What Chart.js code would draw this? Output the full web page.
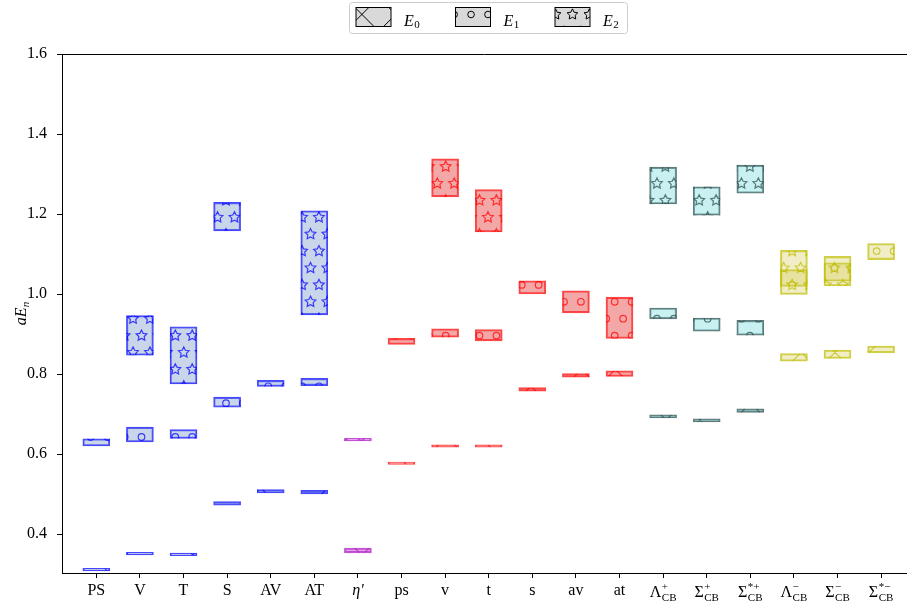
<!DOCTYPE html>
<html>
<head>
<meta charset="utf-8">
<script src="https://cdn.jsdelivr.net/npm/chart.js@4/dist/chart.umd.min.js"></script>
<style>
  html, body { margin: 0; padding: 0; background: #fff; }
  #wrap { width: 907px; height: 610px; }
</style>
</head>
<body>
<div id="wrap"><canvas id="c" width="907" height="610"></canvas></div>
<script>
// Channels along the x axis
const categories = ['PS', 'V', 'T', 'S', 'AV', 'AT', 'eta', 'ps', 'v', 't', 's', 'av', 'at',
                    'LamCB+', 'SigCB+', 'SigStarCB+', 'LamCB-', 'SigCB-', 'SigStarCB-'];
// Tick label pieces: main text, superscript, subscript, italic flag
const tickBase   = ['PS', 'V', 'T', 'S', 'AV', 'AT', 'η′', 'ps', 'v', 't', 's', 'av', 'at', 'Λ', 'Σ', 'Σ', 'Λ', 'Σ', 'Σ'];
const tickSup    = ['', '', '', '', '', '', '', '', '', '', '', '', '', '+', '+', '*+', '−', '−', '*−'];
const tickSub    = ['', '', '', '', '', '', '', '', '', '', '', '', '', 'CB', 'CB', 'CB', 'CB', 'CB', 'CB'];
const tickItalic = [false, false, false, false, false, false, true, false, false, false, false, false, false,
                    false, false, false, false, false, false];
// Colour family of each channel
const groups = ['blue', 'blue', 'blue', 'blue', 'blue', 'blue', 'purple',
                'red', 'red', 'red', 'red', 'red', 'red',
                'teal', 'teal', 'teal', 'yellow', 'yellow', 'yellow'];

// Energy bands [low, high] for each state; null = no band
const e0 = [
  [0.308, 0.314], [0.348, 0.354], [0.346, 0.352], [0.472, 0.481], [0.503, 0.511], [0.500, 0.509],
  [0.353, 0.365],
  [0.574, 0.580], [0.617, 0.623], [0.617, 0.623], [0.757, 0.766], [0.792, 0.801], [0.794, 0.808],
  [0.690, 0.698], [0.680, 0.688], [0.704, 0.713],
  [0.832, 0.851], [0.839, 0.860], [0.853, 0.870]
];
const e1 = [
  [0.620, 0.638], [0.630, 0.667], [0.639, 0.661], [0.717, 0.742], [0.769, 0.784], [0.771, 0.789],
  [0.633, 0.639],
  [0.874, 0.889], [0.892, 0.913], [0.883, 0.911], [1.000, 1.033], [0.953, 1.008], [0.889, 0.992],
  [0.938, 0.965], [0.907, 0.940], [0.897, 0.934],
  [1.019, 1.061], [1.032, 1.078], [1.086, 1.126]
];
const e2 = [
  null, [0.847, 0.946], [0.775, 0.918], [1.158, 1.229], null, [0.948, 1.208],
  null,
  null, [1.243, 1.338], [1.155, 1.261], null, null, null,
  [1.225, 1.317], [1.197, 1.268], [1.252, 1.322],
  [0.999, 1.109], [1.020, 1.094], null
];
const yTicks = [0.4, 0.6, 0.8, 1.0, 1.2, 1.4, 1.6];
const legendLabels = ['0', '1', '2'];

const palette = {
  blue:   { fill: 'rgba(120,150,200,0.40)', edge: 'rgba(0,0,255,0.72)' },
  purple: { fill: 'rgba(190,60,200,0.45)',  edge: 'rgba(180,40,200,0.80)' },
  red:    { fill: 'rgba(230,60,60,0.45)',   edge: 'rgba(255,0,0,0.72)' },
  teal:   { fill: 'rgba(120,220,220,0.40)', edge: 'rgba(47,79,79,0.75)' },
  yellow: { fill: 'rgba(210,200,70,0.30)',  edge: 'rgba(190,190,0,0.72)' }
};
const SERIF = '"Liberation Serif", "DejaVu Serif", serif';

// Hatch lattice shared by every patch (anchored to the canvas, not to the bar)
const HATCH = { s: 16.9, x0: 6.3, y0: 301.8, line: 33.8, ne: 4.5, nw: 9.5 };

function starPath(c, cx, cy, R) {
  for (let i = 0; i <= 10; i++) {
    const a = Math.PI / 2 + i * Math.PI / 5;
    const r = (i % 2 === 0) ? R : R * 0.5;
    const px = cx + r * Math.cos(a), py = cy - r * Math.sin(a);
    if (i === 0) c.moveTo(px, py); else c.lineTo(px, py);
  }
  c.closePath();
}

function drawHatch(c, kind, L, T, W, H, color, lw) {
  c.save();
  c.beginPath();
  c.rect(L, T, W, H);
  c.clip();
  c.strokeStyle = color;
  c.lineWidth = lw;
  c.beginPath();
  if (kind === 'x') {
    const p = HATCH.line;
    let cmin = L + T, cmax = L + W + T + H;
    for (let k = Math.floor((cmin - HATCH.ne) / p) * p + HATCH.ne; k <= cmax + p; k += p) {
      c.moveTo(k - T, T); c.lineTo(k - (T + H), T + H);
    }
    cmin = L - (T + H); cmax = L + W - T;
    for (let k = Math.floor((cmin - HATCH.nw) / p) * p + HATCH.nw; k <= cmax + p; k += p) {
      c.moveTo(k + T, T); c.lineTo(k + T + H, T + H);
    }
  } else {
    const s = HATCH.s;
    const R = kind === 'o' ? 3.3 : 5.6;
    const r0 = Math.floor((T - R - HATCH.y0) / s), r1 = Math.ceil((T + H + R - HATCH.y0) / s);
    for (let r = r0; r <= r1; r++) {
      const cy = HATCH.y0 + r * s;
      const ph = HATCH.x0 + (((r % 2) + 2) % 2 ? s / 2 : 0);
      const k0 = Math.floor((L - R - ph) / s), k1 = Math.ceil((L + W + R - ph) / s);
      for (let k = k0; k <= k1; k++) {
        const cx = ph + k * s;
        if (kind === 'o') { c.moveTo(cx + R, cy); c.arc(cx, cy, R, 0, Math.PI * 2); }
        else starPath(c, cx, cy, R);
      }
    }
  }
  c.stroke();
  c.restore();
}

function makeDataset(label, ranges, hatch, order) {
  const pts = [];
  ranges.forEach((r, i) => { if (r) pts.push({ x: i, y: r }); });
  return {
    label, hatch, order,
    data: pts,
    grouped: false,
    barThickness: 27,
    borderWidth: 1.4,
    borderSkipped: false,
    backgroundColor: ctx => ctx.raw ? palette[groups[ctx.raw.x]].fill : '#ccc',
    borderColor: ctx => ctx.raw ? palette[groups[ctx.raw.x]].edge : '#000'
  };
}

// Draws the hatch of each bar right after its series
const hatchPlugin = {
  id: 'hatchFill',
  afterDatasetDraw(chart, args) {
    const ds = chart.data.datasets[args.index];
    const c = chart.ctx, a = chart.chartArea;
    c.save();
    c.beginPath();
    c.rect(a.left, a.top, a.right - a.left, a.bottom - a.top);
    c.clip();
    args.meta.data.forEach((el, j) => {
      const p = el.getProps(['x', 'y', 'base', 'width'], true);
      const L = p.x - p.width / 2, T = Math.min(p.y, p.base), H = Math.abs(p.base - p.y);
      drawHatch(c, ds.hatch, L, T, p.width, H, palette[groups[ds.data[j].x]].edge, 1.2);
    });
    c.restore();
  }
};

// Top spine, tick labels with sub/superscripts, axis label and legend
const decorPlugin = {
  id: 'decor',
  afterDraw(chart) {
    const c = chart.ctx, a = chart.chartArea, xs = chart.scales.x;
    c.save();
    c.strokeStyle = '#000';
    c.lineWidth = 1;
    c.beginPath();
    c.moveTo(a.left, a.top + 0.5);
    c.lineTo(a.right, a.top + 0.5);
    c.stroke();

    c.fillStyle = '#000';
    c.textBaseline = 'alphabetic';
    c.textAlign = 'left';
    const small = '11px ' + SERIF;
    categories.forEach((_, i) => {
      const x = xs.getPixelForValue(i);
      const fMain = (tickItalic[i] ? 'italic ' : '') + '16px ' + SERIF;
      const base = tickBase[i], sup = tickSup[i], sub = tickSub[i];
      c.font = fMain;
      const wb = c.measureText(base).width;
      c.font = small;
      const ws = (sup || sub) ? Math.max(c.measureText(sup).width, c.measureText(sub).width) + 0.5 : 0;
      const x0 = x - (wb + ws) / 2;
      const by = (sup || sub) ? 597 : 595;
      c.font = fMain;
      c.fillText(base, x0, by);
      c.font = small;
      if (sup) c.fillText(sup, x0 + wb + 0.5, by - 7);
      if (sub) c.fillText(sub, x0 + wb + 0.5, by + 4);
    });

    // y axis label aE_n
    c.save();
    c.translate(26, (a.top + a.bottom) / 2);
    c.rotate(-Math.PI / 2);
    c.font = 'italic 16px ' + SERIF;
    const wMain = c.measureText('aE').width;
    c.font = 'italic 11px ' + SERIF;
    const wSub = c.measureText('n').width;
    const sx = -(wMain + wSub) / 2;
    c.font = 'italic 16px ' + SERIF;
    c.fillText('aE', sx, 0);
    c.font = 'italic 11px ' + SERIF;
    c.fillText('n', sx + wMain, 3);
    c.restore();

    // legend frame
    const fx = 349.5, fy = 2.5, fw = 278, fh = 31, rr = 3;
    c.beginPath();
    c.moveTo(fx + rr, fy);
    c.arcTo(fx + fw, fy, fx + fw, fy + fh, rr);
    c.arcTo(fx + fw, fy + fh, fx, fy + fh, rr);
    c.arcTo(fx, fy + fh, fx, fy, rr);
    c.arcTo(fx, fy, fx + fw, fy, rr);
    c.closePath();
    c.fillStyle = 'rgba(255,255,255,0.8)';
    c.fill();
    c.strokeStyle = '#cccccc';
    c.lineWidth = 1;
    c.stroke();

    const kinds = ['x', 'o', '*'];
    const px = [356, 455.5, 555];
    kinds.forEach((k, i) => {
      const L = px[i], T = 7.5, W = 35, H = 19;
      c.fillStyle = '#d9d9d9';
      c.fillRect(L, T, W, H);
      drawHatch(c, k, L, T, W, H, '#000', 1);
      c.strokeStyle = '#000';
      c.lineWidth = 1;
      c.strokeRect(L, T, W, H);
      c.fillStyle = '#000';
      c.font = 'italic 16px ' + SERIF;
      c.fillText('E', L + 48, 26);
      const we = c.measureText('E').width;
      c.font = '11px ' + SERIF;
      c.fillText(legendLabels[i], L + 48 + we + 0.5, 28);
    });
    c.restore();
  }
};

new Chart(document.getElementById('c'), {
  type: 'bar',
  data: {
    datasets: [
      makeDataset('E0', e0, 'x', 3),
      makeDataset('E1', e1, 'o', 2),
      makeDataset('E2', e2, '*', 1)
    ]
  },
  options: {
    responsive: false,
    animation: false,
    devicePixelRatio: 1,
    layout: { padding: { top: 54, left: 0, right: 0, bottom: 0 } },
    plugins: { legend: { display: false }, tooltip: { enabled: false } },
    scales: {
      x: {
        type: 'linear',
        min: -0.787,
        max: 18.594,
        offset: false,
        grid: { offset: false, drawOnChartArea: false, drawTicks: true, tickLength: 5, tickColor: '#000', tickWidth: 1 },
        border: { display: true, color: '#000', width: 1 },
        ticks: { autoSkip: false, maxRotation: 0, padding: 0, callback: () => '' },
        afterBuildTicks: s => { s.ticks = categories.map((_, i) => ({ value: i })); },
        afterFit: s => { s.height = 37; }
      },
      y: {
        min: 0.3025,
        max: 1.6,
        grid: { drawOnChartArea: false, drawTicks: true, tickLength: 5, tickColor: '#000', tickWidth: 1 },
        border: { display: true, color: '#000', width: 1 },
        ticks: {
          color: '#000',
          padding: 10,
          font: { family: SERIF, size: 16 },
          callback: v => Number(v).toFixed(1)
        },
        afterBuildTicks: s => { s.ticks = yTicks.map(v => ({ value: v })); },
        afterFit: s => { s.width = 62; }
      }
    }
  },
  plugins: [hatchPlugin, decorPlugin]
});
</script>
</body>
</html>
